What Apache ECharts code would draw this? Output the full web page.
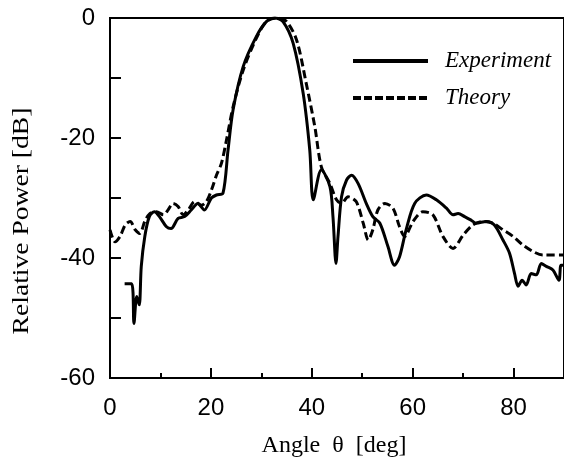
<!DOCTYPE html>
<html>
<head>
<meta charset="utf-8">
<script src="https://cdn.jsdelivr.net/npm/echarts@6/dist/echarts.min.js"></script>
<style>
  html, body { margin: 0; padding: 0; background: #fff; }
  #chart { width: 564px; height: 465px; }
</style>
</head>
<body>
<div id="chart"></div>
<script>
var expAngle = [2.9, 4.3, 4.75, 5.3, 5.8, 6.2, 6.9, 7.8, 8.8, 9.8, 11.2, 12.1, 13.5, 14.8, 16.1, 17.4, 18.7, 20.1, 21.1, 22.4,
                23.4, 24.4, 26.4, 29.0, 31.0, 32.7, 34.3, 36.3, 38.3, 39.6, 40.3, 41.9, 43.6, 44.2, 44.8, 45.2, 45.9, 46.9,
                47.9, 49.2, 50.8, 52.1, 53.5, 55.1, 56.4, 57.4, 58.7, 60.4, 62.7, 64.7, 66.7, 68.0, 69.0, 70.3, 71.6, 72.6,
                74.6, 76.2, 77.9, 79.2, 80.2, 80.9, 81.7, 82.5, 83.5, 84.5, 85.5, 86.5, 87.8, 89.0, 89.4, 90];
var expPower = [-44.3, -44.3, -50.9, -46.4, -47.8, -41.4, -36.4, -33.1, -32.3, -33.1, -34.8, -35.1, -33.4, -33.1, -32.0, -30.9, -32.0, -30.0, -29.5, -29.2,
                -22.0, -15.3, -8.1, -3.1, -0.6, 0, -0.6, -4.2, -12.6, -22.0, -30.3, -25.3, -28.1, -33.1, -40.9, -36.4, -29.8, -27.0,
                -26.2, -27.6, -30.9, -33.1, -34.2, -38.1, -41.2, -39.8, -35.3, -30.9, -29.5, -30.3, -31.7, -32.8, -32.6, -33.1, -33.7, -34.2,
                -33.9, -34.5, -37.0, -39.2, -42.6, -44.7, -43.7, -44.5, -42.6, -42.8, -40.9, -41.4, -42.0, -43.7, -41.2, -41.2];

// calculated pattern
var theoryAngle = [0, 1, 2, 3, 4, 5, 5.9, 6.9, 7.9, 9.2, 10.6, 11.5, 12.5, 13.5, 14.5, 15.5, 16.8, 18.1, 19.1, 20.1, 21.1, 22.1,
                   23.1, 24.4, 26.4, 29.0, 31.0, 33.0, 35.0, 37.0, 38.9, 40.6, 41.9, 43.6, 44.9, 45.9, 47.2, 48.8, 50.2, 51.2,
                   52.1, 53.1, 54.5, 56.1, 57.4, 58.4, 60.1, 62.0, 64.0, 66.0, 68.0, 70.0, 71.9, 73.9, 75.9, 77.9, 79.9, 81.8,
                   83.8, 85.8, 90];
var theoryPower = [-35.3, -37.3, -36.4, -34.5, -33.9, -35.3, -35.9, -33.9, -32.6, -32.3, -32.8, -32.0, -30.9, -31.4, -32.8, -32.0, -30.6, -31.2, -30.6, -28.7, -26.2, -24.2,
                   -20.3, -14.8, -8.7, -3.4, -0.6, 0, -0.6, -3.7, -10.9, -18.1, -24.8, -27.6, -30.3, -30.9, -29.8, -30.6, -34.2, -37.0,
                   -35.3, -32.0, -30.9, -31.7, -34.8, -36.4, -33.9, -32.3, -32.8, -36.4, -38.4, -36.2, -34.5, -33.9, -34.2, -35.3, -36.4, -37.8,
                   -38.9, -39.5, -39.5];

var xTicks = [0, 20, 40, 60, 80];
var seriesNames = ['Experiment', 'Theory'];

function pairs(xs, ys) {
    var out = [];
    for (var i = 0; i < xs.length; i++) {
        out.push([xs[i], ys[i]]);
    }
    return out;
}

var chart = echarts.init(document.getElementById('chart'), null, { renderer: 'canvas' });

var numFont = { color: '#000', fontFamily: 'Liberation Sans', fontSize: 24 };
var legendFont = 'italic 23px "Liberation Serif"';

chart.setOption({
    animation: false,
    backgroundColor: '#fff',
    grid: { left: 110, right: -1, top: 18, bottom: 87, show: true, borderColor: '#000', borderWidth: 2, backgroundColor: 'transparent' },
    xAxis: {
        type: 'value',
        min: 0,
        max: 90,
        interval: 20,
        axisLine: { onZero: false, lineStyle: { color: '#000', width: 2 } },
        axisTick: { inside: true, length: 10, lineStyle: { color: '#000', width: 2 } },
        minorTick: { show: true, splitNumber: 2, length: 5, lineStyle: { color: '#000', width: 2 } },
        splitLine: { show: false },
        axisLabel: Object.assign({ margin: 18, showMaxLabel: false,
            formatter: function (v) { return xTicks.indexOf(v) >= 0 ? String(v) : ''; } }, numFont)
    },
    yAxis: {
        type: 'value',
        min: -60,
        max: 0,
        interval: 20,
        axisLine: { show: true, onZero: false, lineStyle: { color: '#000', width: 2 } },
        axisTick: { inside: true, length: 11, lineStyle: { color: '#000', width: 2 } },
        minorTick: { show: true, splitNumber: 2, length: 11, lineStyle: { color: '#000', width: 2 } },
        splitLine: { show: false },
        axisLabel: Object.assign({ margin: 15 }, numFont)
    },
    graphic: [{
        type: 'text',
        x: 334,
        y: 446,
        style: { text: 'Angle  \u03b8  [deg]', fill: '#000', font: '24px "Liberation Serif"', textAlign: 'center', textVerticalAlign: 'middle' }
    }, {
        type: 'text',
        x: 22,
        y: 221,
        rotation: Math.PI / 2,
        scaleX: 1.2,
        style: { text: 'Relative Power [dB]', fill: '#000', font: '23px "Liberation Serif"', textAlign: 'center', textVerticalAlign: 'middle' }
    }, {
        // legend keys
        type: 'line',
        shape: { x1: 353, y1: 61, x2: 428, y2: 61 },
        style: { stroke: '#000', lineWidth: 4 }
    }, {
        type: 'line',
        shape: { x1: 353, y1: 98, x2: 428, y2: 98 },
        style: { stroke: '#000', lineWidth: 4, lineDash: [8, 3] }
    }, {
        type: 'text',
        x: 445,
        y: 61,
        style: { text: seriesNames[0], fill: '#000', font: legendFont, textVerticalAlign: 'middle' }
    }, {
        type: 'text',
        x: 445,
        y: 98,
        style: { text: seriesNames[1], fill: '#000', font: legendFont, textVerticalAlign: 'middle' }
    }],
    series: [{
        name: seriesNames[0],
        type: 'line',
        showSymbol: false,
        symbol: 'none',
        smooth: 0.3,
        data: pairs(expAngle, expPower),
        lineStyle: { color: '#000', width: 3 }
    }, {
        name: seriesNames[1],
        type: 'line',
        showSymbol: false,
        symbol: 'none',
        smooth: 0.3,
        data: pairs(theoryAngle, theoryPower),
        lineStyle: { color: '#000', width: 3, type: [8, 4] }
    }]
});
</script>
</body>
</html>
